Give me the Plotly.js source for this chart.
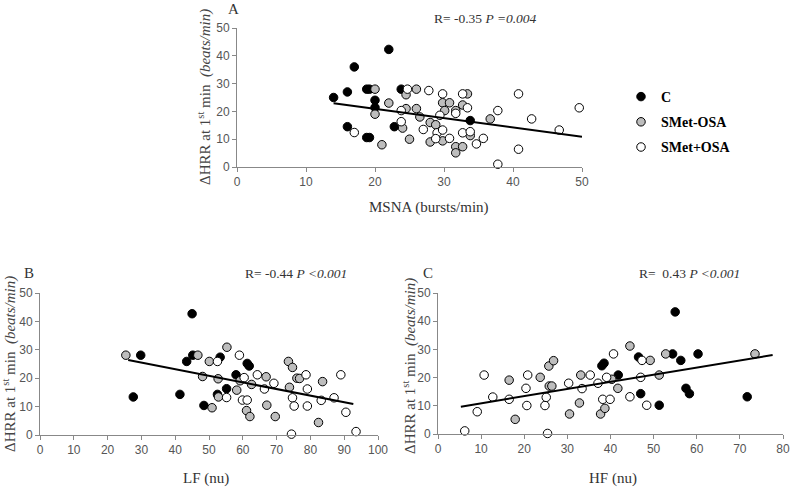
<!DOCTYPE html>
<html>
<head>
<meta charset="utf-8">
<script src="https://cdn.plot.ly/plotly-3.0.1.min.js"></script>
<style>
  html, body { margin: 0; padding: 0; background: #fff; }
  #chart { width: 793px; height: 488px; }
</style>
</head>
<body>
<div id="chart"></div>
<script>
// Panel A: MSNA (bursts/min) vs dHRR
const msnaC = [14, 16, 17, 16, 18.8, 19.2, 18.8, 19.2, 22, 20, 20, 23.8, 22.8, 33.8];
const hrrMsnaC = [25, 27, 36, 14.5, 28, 28, 10.6, 10.6, 42.3, 24, 21.4, 28, 14.5, 16.7];
const msnaG = [20, 22, 20, 21, 24.5, 26, 24.5, 24, 26, 25, 26.5, 28, 28.8, 28, 29.8, 30.8, 30.1, 29.8, 31.7, 31.7, 31.7, 33.4, 32.7, 32.7, 33.8, 36.7];
const hrrMsnaG = [28, 23, 19, 8, 26, 28, 21, 14, 21, 10, 18, 16, 15.2, 9, 23.1, 23.1, 20.3, 9.4, 20.3, 7.3, 5.1, 26.3, 22.3, 7.3, 11.3, 17.3];
const msnaW = [17, 24.7, 23.8, 23.8, 27.8, 27, 29.4, 29, 29.8, 28.8, 30.8, 29.8, 32.7, 31.7, 33.4, 32.7, 33.8, 34.7, 35.7, 37.8, 37.8, 40.8, 40.8, 42.7, 46.7, 49.6];
const hrrMsnaW = [12.4, 28, 20.3, 16.3, 27.5, 13.5, 18.6, 12.3, 13.3, 10.2, 10.3, 26.3, 26.3, 19.3, 21.3, 12.3, 12.7, 8.3, 10.3, 20.3, 1, 26.3, 6.4, 17.3, 13.3, 21.3];
const fitMsnaX = [14, 50];
const fitMsnaY = [22.9, 10.9];

// Panel B: LF (nu)
const lfC = [27.6, 29.8, 41.4, 43.4, 45.2, 45, 48.5, 53.3, 52.5, 55.2, 58, 61.3, 61.9];
const hrrLfC = [13.4, 28.1, 14.3, 25.9, 28.1, 42.7, 10.4, 27.4, 14.3, 16.3, 21.2, 25.2, 24.3];
const lfG = [25.4, 46.7, 48.1, 50.1, 50.9, 52.7, 52.8, 55.3, 58.2, 59.2, 61.1, 62.1, 62.6, 66.9, 67.1, 69.6, 73.5, 74.7, 73.8, 76, 76.8, 83.6, 82.4];
const hrrLfG = [28.1, 28.1, 20.6, 25.9, 9.6, 19.8, 13.4, 30.9, 15.8, 19.1, 8.6, 6.5, 17.8, 20.5, 10.5, 6.5, 25.9, 23.8, 16.8, 20, 19.9, 18.8, 4.4];
const lfW = [52.5, 55.2, 59, 60.4, 59.9, 61.3, 64.3, 66.4, 69.2, 74.7, 75.2, 74.4, 78.7, 79.1, 79.1, 83.2, 87, 89, 90.5, 93.5];
const hrrLfW = [25.9, 13.2, 28.1, 20.2, 12.3, 12.3, 21.2, 16.2, 18.2, 13.1, 10.2, 0.3, 21.2, 16.2, 10.2, 12.2, 13.1, 21.2, 8, 1.2];
const fitLfX = [26.1, 92.7];
const fitLfY = [26.4, 10.9];

// Panel C: HF (nu)
const hfC = [38, 38.5, 41.8, 46.5, 47, 51.3, 54.4, 55, 56.3, 57.5, 58.3, 60.3, 71.7];
const hrrHfC = [24.2, 25.1, 20.9, 27.3, 14.3, 10.2, 28.4, 43.3, 26.1, 16.2, 14.3, 28.4, 13.2];
const hfG = [16.5, 17.9, 23.7, 25.7, 26.8, 25.8, 26.4, 30.5, 33.1, 32.8, 37.7, 38.7, 40.3, 41.7, 44.5, 49.2, 51.3, 52.8, 73.5];
const hrrHfG = [19.1, 5.2, 20.1, 24.1, 26, 17, 17, 7.1, 20.9, 11, 7.1, 9.1, 19.4, 16.2, 31.2, 26.1, 20.9, 28.4, 28.4];
const hfW = [6.2, 9.1, 10.7, 12.7, 16.5, 20.4, 20.8, 20.6, 24.8, 25.1, 25.4, 30.3, 33.4, 35.3, 37.1, 38.2, 39.1, 39.9, 40.7, 44.5, 47.3, 47, 48.4];
const hrrHfW = [1.1, 7.9, 20.9, 13.1, 12.3, 16.2, 20.9, 10.1, 10.1, 13, 0.2, 18, 16.1, 20.9, 18, 12.3, 20.1, 12.3, 28.4, 13.2, 26.1, 20.1, 10.2];
const fitHfX = [5.3, 77.6];
const fitHfY = [9.7, 28];

const groupNames = ['C', 'SMet-OSA', 'SMet+OSA'];
const groupColors = ['#000000', '#bdbdbd', '#ffffff'];

const W = 793, H = 488;
function px(x) { return x / W; }
function py(y) { return 1 - y / H; }

function groupTraces(xs, ys, axis, withLegend) {
  return xs.map((x, i) => ({
    x: x,
    y: ys[i],
    type: 'scatter',
    mode: 'markers',
    name: groupNames[i],
    legendgroup: 'g' + i,
    showlegend: withLegend,
    xaxis: 'x' + axis,
    yaxis: 'y' + axis,
    cliponaxis: false,
    marker: { size: 8.5, color: groupColors[i], line: { color: '#000', width: 1 } }
  }));
}

function fitTrace(x, y, axis) {
  return {
    x: x, y: y,
    type: 'scatter', mode: 'lines',
    showlegend: false,
    xaxis: 'x' + axis, yaxis: 'y' + axis,
    line: { color: '#000', width: 2 }
  };
}

const traces = [
  ...groupTraces([msnaC, msnaG, msnaW], [hrrMsnaC, hrrMsnaG, hrrMsnaW], '', true),
  fitTrace(fitMsnaX, fitMsnaY, ''),
  ...groupTraces([lfC, lfG, lfW], [hrrLfC, hrrLfG, hrrLfW], '2', false),
  fitTrace(fitLfX, fitLfY, '2'),
  ...groupTraces([hfC, hfG, hfW], [hrrHfC, hrrHfG, hrrHfW], '3', false),
  fitTrace(fitHfX, fitHfY, '3')
];

const tickFont = { family: 'Liberation Sans, Arial, sans-serif', size: 12, color: '#555' };

function xAxis(domain, max, anchor) {
  return {
    domain: domain, range: [0, max], dtick: 10, anchor: anchor,
    showline: true, linecolor: '#888', linewidth: 1,
    ticks: 'outside', ticklen: 4, tickcolor: '#888',
    showgrid: false, zeroline: false, tickfont: tickFont
  };
}
function yAxis(domain, anchor) {
  return {
    domain: domain, range: [0, 50], dtick: 10, anchor: anchor,
    showline: true, linecolor: '#888', linewidth: 1,
    ticks: 'outside', ticklen: 4, tickcolor: '#888',
    showgrid: false, zeroline: false, tickfont: tickFont
  };
}

const serif = 'Liberation Serif, Times New Roman, serif';
const yTitle = '\u0394HRR at 1<sup>st</sup> min  <i>(beats/min)</i>';
const yTitleFont = { family: serif, size: 15, color: '#444' };
const statFont = { family: serif, size: 13.5, color: '#333' };

function note(text, x, y, opts) {
  return Object.assign({
    text: text, xref: 'paper', yref: 'paper', x: px(x), y: py(y),
    xanchor: 'center', yanchor: 'middle', showarrow: false,
    font: { family: serif, size: 15, color: '#333' }
  }, opts || {});
}

const annotations = [
  note('A', 226, 9, { xanchor: 'left' }),
  note('B', 22, 273, { xanchor: 'left' }),
  note('C', 421, 273, { xanchor: 'left' }),
  note('R= -0.35 <i>P =0.004</i>', 485, 19, { font: statFont }),
  note('R= -0.44 <i>P <0.001</i>', 296, 273, { font: statFont }),
  note('R=  0.43 <i>P <0.001</i>', 689, 273, { font: statFont }),
  note('MSNA (bursts/min)', 429, 207),
  note('LF (nu)', 206, 478),
  note('HF (nu)', 613, 478),
  note(yTitle, 205, 97, { textangle: -90, font: yTitleFont }),
  note(yTitle, 9, 364, { textangle: -90, font: yTitleFont }),
  note(yTitle, 409, 366, { textangle: -90, font: yTitleFont })
];

const layout = {
  width: W, height: H,
  margin: { l: 0, r: 0, t: 0, b: 0 },
  paper_bgcolor: '#fff', plot_bgcolor: '#fff',
  showlegend: true,
  legend: {
    x: px(621), y: py(81), xanchor: 'left', yanchor: 'top',
    font: { family: serif, size: 14, color: '#000', weight: 'bold' },
    tracegroupgap: 4, bgcolor: 'rgba(0,0,0,0)'
  },
  xaxis: xAxis([px(237), px(582)], 50, 'y'),
  yaxis: yAxis([py(167), py(28)], 'x'),
  xaxis2: xAxis([px(40), px(378)], 100, 'y2'),
  yaxis2: yAxis([py(435), py(293)], 'x2'),
  xaxis3: xAxis([px(438), px(783)], 80, 'y3'),
  yaxis3: yAxis([py(434), py(293)], 'x3'),
  annotations: annotations
};

Plotly.newPlot('chart', traces, layout, { displayModeBar: false, staticPlot: true });
</script>
</body>
</html>
